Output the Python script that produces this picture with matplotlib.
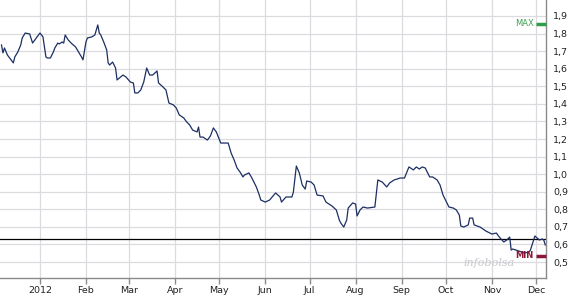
import matplotlib
matplotlib.use("Agg")
import matplotlib.pyplot as plt
import numpy as np
import pandas as pd

# daily close
dates = [
    "2011-12-06", "2011-12-07", "2011-12-08", "2011-12-10", "2011-12-14", "2011-12-15", "2011-12-17",
    "2011-12-19", "2011-12-20", "2011-12-22", "2011-12-25", "2011-12-27", "2011-12-30",
    "2012-01-01", "2012-01-03", "2012-01-05", "2012-01-06", "2012-01-08", "2012-01-10", "2012-01-11",
    "2012-01-13", "2012-01-14", "2012-01-16", "2012-01-17", "2012-01-18", "2012-01-20", "2012-01-22",
    "2012-01-25", "2012-01-27", "2012-01-29", "2012-01-30",
    "2012-02-01", "2012-02-02", "2012-02-05", "2012-02-07", "2012-02-09", "2012-02-10", "2012-02-11",
    "2012-02-13", "2012-02-15", "2012-02-16", "2012-02-17", "2012-02-19", "2012-02-21", "2012-02-22",
    "2012-02-26", "2012-02-28",
    "2012-03-02", "2012-03-04", "2012-03-05", "2012-03-07", "2012-03-09", "2012-03-11", "2012-03-13",
    "2012-03-15", "2012-03-17", "2012-03-20", "2012-03-21", "2012-03-24", "2012-03-26", "2012-03-28",
    "2012-03-31",
    "2012-04-02", "2012-04-04", "2012-04-07", "2012-04-09", "2012-04-11", "2012-04-13", "2012-04-16",
    "2012-04-17", "2012-04-18", "2012-04-20", "2012-04-23", "2012-04-25", "2012-04-27", "2012-04-29",
    "2012-05-02", "2012-05-06", "2012-05-07", "2012-05-09", "2012-05-11", "2012-05-13", "2012-05-15",
    "2012-05-17", "2012-05-18", "2012-05-21", "2012-05-23", "2012-05-26", "2012-05-28", "2012-05-29",
    "2012-06-01", "2012-06-04", "2012-06-08", "2012-06-11", "2012-06-12", "2012-06-15", "2012-06-19",
    "2012-06-20", "2012-06-22", "2012-06-24", "2012-06-26", "2012-06-28", "2012-06-29",
    "2012-07-02", "2012-07-04", "2012-07-06", "2012-07-10", "2012-07-12", "2012-07-16", "2012-07-19",
    "2012-07-21", "2012-07-22", "2012-07-24", "2012-07-26", "2012-07-27", "2012-07-30",
    "2012-08-01", "2012-08-02", "2012-08-04", "2012-08-06", "2012-08-09", "2012-08-14", "2012-08-16",
    "2012-08-19", "2012-08-22", "2012-08-24", "2012-08-27", "2012-08-29", "2012-08-31",
    "2012-09-03", "2012-09-06", "2012-09-09", "2012-09-11", "2012-09-13", "2012-09-15", "2012-09-17",
    "2012-09-20", "2012-09-22", "2012-09-25", "2012-09-27", "2012-09-29",
    "2012-10-03", "2012-10-06", "2012-10-08", "2012-10-10", "2012-10-11", "2012-10-13", "2012-10-16",
    "2012-10-17", "2012-10-19", "2012-10-20", "2012-10-24", "2012-10-28",
    "2012-11-01", "2012-11-04", "2012-11-06", "2012-11-09", "2012-11-11", "2012-11-13", "2012-11-14",
    "2012-11-15", "2012-11-19", "2012-11-23", "2012-11-26", "2012-11-27", "2012-11-30",
    "2012-12-03", "2012-12-05", "2012-12-06", "2012-12-07",
]
prices = [
    1.735, 1.690, 1.718, 1.678, 1.633, 1.667, 1.695, 1.735, 1.775, 1.803, 1.798, 1.746, 1.781,
    1.803, 1.781, 1.667, 1.661, 1.661, 1.695, 1.718, 1.746, 1.741, 1.752, 1.746, 1.792, 1.764, 1.746,
    1.724, 1.695, 1.667, 1.650,
    1.752, 1.775, 1.781, 1.792, 1.849, 1.803, 1.792, 1.752, 1.707, 1.633, 1.621, 1.638, 1.604, 1.536,
    1.564, 1.553,
    1.524, 1.519, 1.462, 1.462, 1.479, 1.524, 1.604, 1.564, 1.564, 1.587, 1.519, 1.496, 1.479, 1.405,
    1.394,
    1.376, 1.337, 1.320, 1.297, 1.280, 1.251, 1.240, 1.268, 1.211, 1.211, 1.194, 1.217, 1.263, 1.240,
    1.177, 1.177, 1.177, 1.120, 1.081, 1.035, 1.012, 0.984, 0.995, 1.007, 0.978, 0.927, 0.881, 0.853,
    0.841, 0.853, 0.893, 0.870, 0.841, 0.870, 0.870, 0.898, 1.046, 1.007, 0.938, 0.915, 0.961,
    0.955, 0.938, 0.881, 0.876, 0.841, 0.819, 0.796, 0.739, 0.722, 0.699, 0.739, 0.807, 0.836,
    0.830, 0.762, 0.796, 0.813, 0.807, 0.813, 0.967, 0.955, 0.927, 0.950, 0.967, 0.972, 0.978,
    0.978, 1.041, 1.024, 1.041, 1.029, 1.041, 1.035, 0.984, 0.984, 0.967, 0.938, 0.881,
    0.813, 0.807, 0.796, 0.767, 0.705, 0.699, 0.711, 0.750, 0.750, 0.711, 0.699, 0.676,
    0.659, 0.665, 0.642, 0.614, 0.625, 0.642, 0.568, 0.574, 0.563, 0.551, 0.557, 0.568, 0.648,
    0.625, 0.631, 0.625, 0.597,
]

month_starts = pd.date_range("2012-01-01", "2012-12-01", freq="MS")
month_labels = ["2012", "Feb", "Mar", "Apr", "May", "Jun", "Jul", "Aug", "Sep", "Oct", "Nov", "Dec"]
y_ticks = [0.5, 0.6, 0.7, 0.8, 0.9, 1.0, 1.1, 1.2, 1.3, 1.4, 1.5, 1.6, 1.7, 1.8, 1.9]
ref_price = 0.632
max_mark = 1.855
min_mark = 0.535

x = pd.to_datetime(dates)

fig = plt.figure(figsize=(5.73, 3.01), dpi=100)
ax = fig.add_axes([0.0, 1 - 278 / 301, 546 / 573, 278 / 301])

ax.set_xlim(pd.Timestamp("2011-12-05"), pd.Timestamp("2012-12-07 12:00"))
ax.set_ylim(0.409, 1.991)

grid_c = "#dcdce0"
for m in month_starts:
    ax.axvline(m, color=grid_c, lw=0.9, zorder=0)
for v in y_ticks:
    ax.axhline(v, color=grid_c, lw=0.9, zorder=0)

ax.axhline(ref_price, color="black", lw=0.9, zorder=2)
ax.plot(x, prices, color="#1c2f63", lw=0.9, zorder=3)

# max / min markers on the right edge
trans = ax.get_yaxis_transform()
ax.plot([0.981, 1.0], [max_mark, max_mark], color="#2f9e48", lw=2.5, transform=trans,
        solid_capstyle="butt", clip_on=False, zorder=4)
ax.text(0.977, max_mark, "MAX", color="#3fa055", fontsize=6, ha="right", va="center",
        transform=trans)
ax.plot([0.981, 1.0], [min_mark, min_mark], color="#8c1538", lw=2.5, transform=trans,
        solid_capstyle="butt", clip_on=False, zorder=4)
ax.text(0.977, min_mark, "MIN", color="#8c1538", fontsize=6, ha="right", va="center",
        fontweight="bold", transform=trans)

ax.text(0.895, 0.055, "infobolsa", transform=ax.transAxes, fontsize=8, family="DejaVu Serif",
        style="italic", color="#c8c8cc", ha="center", va="center")

ax.set_xticks(month_starts)
ax.set_xticklabels(month_labels)
ax.set_yticks(y_ticks)
ax.set_yticklabels([f"{v:.1f}".replace(".", ",") for v in y_ticks])
ax.yaxis.tick_right()

for s in ["left", "top"]:
    ax.spines[s].set_visible(False)
for s in ["right", "bottom"]:
    ax.spines[s].set_color("#8a8a8a")
    ax.spines[s].set_linewidth(1)

ax.tick_params(axis="x", length=4, width=1, color="#8a8a8a", labelsize=6.8, pad=2, labelcolor="#222222")
ax.tick_params(axis="y", length=0, labelsize=6.8, pad=5, labelcolor="#222222")

fig.savefig("out.png", dpi=100, facecolor="white")
